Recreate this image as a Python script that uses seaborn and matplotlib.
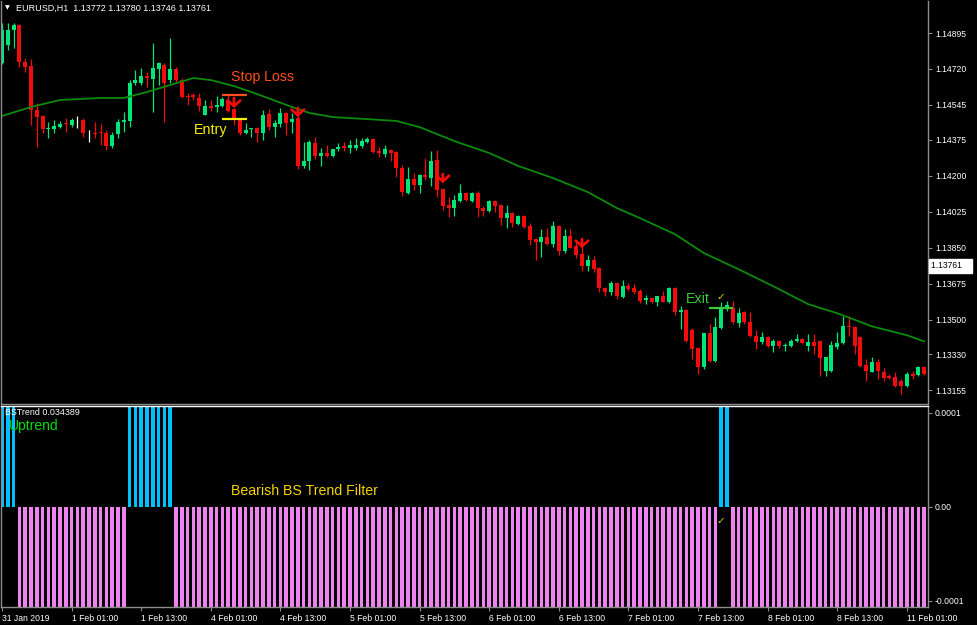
import numpy as np
import pandas as pd
import matplotlib
matplotlib.use("Agg")
import matplotlib.pyplot as plt
import seaborn as sns

plt.rcParams["font.family"] = ["Liberation Sans", "DejaVu Sans"]

# ─────────────────────────────────────────────
# Data (EURUSD H1)
# ─────────────────────────────────────────────
open_ = [
    1.14749, 1.14837, 1.14910, 1.14934, 1.14754, 1.14735, 1.14520, 1.14491, 1.14428, 1.14428,
    1.14437, 1.14457, 1.14447, 1.14457, 1.14472, 1.14398, 1.14408, 1.14413, 1.14408, 1.14345,
    1.14403, 1.14462, 1.14467, 1.14652, 1.14652, 1.14686, 1.14671, 1.14720, 1.14739, 1.14666,
    1.14720, 1.14666, 1.14589, 1.14593, 1.14579, 1.14496, 1.14540, 1.14535, 1.14540, 1.14569,
    1.14525, 1.14476, 1.14408, 1.14428, 1.14433, 1.14408, 1.14501, 1.14437, 1.14452, 1.14506,
    1.14462, 1.14481, 1.14248, 1.14272, 1.14360, 1.14296, 1.14311, 1.14296, 1.14330, 1.14345,
    1.14335, 1.14335, 1.14345, 1.14364, 1.14379, 1.14321, 1.14306, 1.14325, 1.14316, 1.14238,
    1.14116, 1.14184, 1.14155, 1.14204, 1.14189, 1.14277, 1.14136, 1.14058, 1.14043, 1.14077,
    1.14116, 1.14077, 1.14116, 1.14043, 1.14028, 1.14077, 1.14058, 1.13994, 1.14019, 1.13965,
    1.14004, 1.13955, 1.13892, 1.13877, 1.13902, 1.13868, 1.13955, 1.13834, 1.13907, 1.13858,
    1.13819, 1.13760, 1.13789, 1.13750, 1.13653, 1.13633, 1.13677, 1.13609, 1.13662, 1.13653,
    1.13638, 1.13594, 1.13604, 1.13584, 1.13614, 1.13584, 1.13653, 1.13536, 1.13545, 1.13448,
    1.13360, 1.13268, 1.13433, 1.13297, 1.13458, 1.13555, 1.13555, 1.13482, 1.13536, 1.13487,
    1.13419, 1.13390, 1.13414, 1.13370, 1.13394, 1.13370, 1.13370, 1.13394, 1.13404, 1.13370,
    1.13390, 1.13394, 1.13248, 1.13248, 1.13365, 1.13385, 1.13467, 1.13463, 1.13414, 1.13278,
    1.13244, 1.13292, 1.13244, 1.13224, 1.13219, 1.13200, 1.13175, 1.13234, 1.13229, 1.13268,
]
high = [
    1.14944, 1.14944, 1.14944, 1.14939, 1.14774, 1.14769, 1.14554, 1.14496, 1.14462, 1.14472,
    1.14467, 1.14481, 1.14481, 1.14491, 1.14481, 1.14423, 1.14462, 1.14452, 1.14423, 1.14413,
    1.14476, 1.14511, 1.14666, 1.14715, 1.14725, 1.14705, 1.14847, 1.14754, 1.14749, 1.14871,
    1.14730, 1.14676, 1.14603, 1.14603, 1.14603, 1.14569, 1.14569, 1.14589, 1.14584, 1.14593,
    1.14530, 1.14481, 1.14457, 1.14433, 1.14437, 1.14520, 1.14525, 1.14472, 1.14530, 1.14511,
    1.14506, 1.14530, 1.14364, 1.14374, 1.14389, 1.14335, 1.14350, 1.14330, 1.14360, 1.14364,
    1.14374, 1.14384, 1.14384, 1.14389, 1.14384, 1.14340, 1.14350, 1.14330, 1.14321, 1.14252,
    1.14243, 1.14214, 1.14209, 1.14286, 1.14321, 1.14325, 1.14140, 1.14097, 1.14106, 1.14160,
    1.14121, 1.14121, 1.14126, 1.14053, 1.14082, 1.14082, 1.14063, 1.14058, 1.14024, 1.14009,
    1.14009, 1.13970, 1.13897, 1.13941, 1.13946, 1.13980, 1.13960, 1.13941, 1.13941, 1.13887,
    1.13892, 1.13814, 1.13809, 1.13755, 1.13657, 1.13687, 1.13682, 1.13692, 1.13677, 1.13672,
    1.13648, 1.13618, 1.13609, 1.13614, 1.13638, 1.13657, 1.13657, 1.13565, 1.13550, 1.13458,
    1.13365, 1.13434, 1.13477, 1.13511, 1.13584, 1.13589, 1.13589, 1.13555, 1.13541, 1.13536,
    1.13448, 1.13438, 1.13419, 1.13404, 1.13399, 1.13385, 1.13404, 1.13429, 1.13409, 1.13429,
    1.13429, 1.13399, 1.13317, 1.13394, 1.13438, 1.13516, 1.13516, 1.13467, 1.13419, 1.13307,
    1.13317, 1.13307, 1.13263, 1.13234, 1.13244, 1.13209, 1.13244, 1.13248, 1.13273, 1.13273,
]
low = [
    1.14744, 1.14813, 1.14822, 1.14730, 1.14705, 1.14447, 1.14340, 1.14408, 1.14384, 1.14408,
    1.14433, 1.14413, 1.14437, 1.14433, 1.14389, 1.14364, 1.14384, 1.14350, 1.14325, 1.14335,
    1.14384, 1.14413, 1.14437, 1.14642, 1.14642, 1.14632, 1.14511, 1.14642, 1.14462, 1.14652,
    1.14657, 1.14579, 1.14545, 1.14569, 1.14515, 1.14496, 1.14515, 1.14511, 1.14535, 1.14511,
    1.14447, 1.14398, 1.14403, 1.14389, 1.14364, 1.14374, 1.14423, 1.14389, 1.14437, 1.14398,
    1.14408, 1.14233, 1.14238, 1.14228, 1.14282, 1.14248, 1.14291, 1.14291, 1.14321, 1.14321,
    1.14311, 1.14325, 1.14335, 1.14360, 1.14311, 1.14291, 1.14291, 1.14272, 1.14194, 1.14101,
    1.14111, 1.14131, 1.14116, 1.14179, 1.14150, 1.14097, 1.14033, 1.13999, 1.14004, 1.14072,
    1.14077, 1.14072, 1.13999, 1.14004, 1.14024, 1.14024, 1.13960, 1.13946, 1.13951, 1.13960,
    1.13946, 1.13863, 1.13790, 1.13804, 1.13863, 1.13853, 1.13814, 1.13824, 1.13848, 1.13799,
    1.13735, 1.13735, 1.13731, 1.13633, 1.13614, 1.13618, 1.13599, 1.13604, 1.13638, 1.13623,
    1.13580, 1.13575, 1.13580, 1.13565, 1.13584, 1.13580, 1.13521, 1.13453, 1.13390, 1.13307,
    1.13234, 1.13258, 1.13292, 1.13292, 1.13453, 1.13541, 1.13477, 1.13463, 1.13477, 1.13414,
    1.13356, 1.13380, 1.13365, 1.13341, 1.13360, 1.13346, 1.13365, 1.13390, 1.13380, 1.13346,
    1.13331, 1.13224, 1.13224, 1.13244, 1.13356, 1.13380, 1.13419, 1.13331, 1.13268, 1.13200,
    1.13244, 1.13209, 1.13200, 1.13209, 1.13170, 1.13136, 1.13170, 1.13209, 1.13224, 1.13229,
]
close = [
    1.14910, 1.14910, 1.14934, 1.14754, 1.14730, 1.14520, 1.14486, 1.14428, 1.14433, 1.14442,
    1.14452, 1.14452, 1.14472, 1.14457, 1.14408, 1.14398, 1.14403, 1.14408, 1.14345, 1.14398,
    1.14462, 1.14472, 1.14652, 1.14666, 1.14686, 1.14676, 1.14725, 1.14749, 1.14652, 1.14720,
    1.14666, 1.14584, 1.14584, 1.14584, 1.14540, 1.14540, 1.14530, 1.14545, 1.14574, 1.14515,
    1.14476, 1.14408, 1.14423, 1.14433, 1.14408, 1.14496, 1.14437, 1.14457, 1.14506, 1.14457,
    1.14476, 1.14248, 1.14272, 1.14364, 1.14296, 1.14311, 1.14296, 1.14330, 1.14340, 1.14335,
    1.14350, 1.14350, 1.14369, 1.14379, 1.14316, 1.14311, 1.14330, 1.14311, 1.14238, 1.14121,
    1.14184, 1.14155, 1.14204, 1.14194, 1.14272, 1.14131, 1.14053, 1.14043, 1.14082, 1.14116,
    1.14082, 1.14116, 1.14043, 1.14028, 1.14077, 1.14053, 1.13994, 1.14019, 1.13970, 1.14004,
    1.13951, 1.13887, 1.13877, 1.13902, 1.13868, 1.13955, 1.13834, 1.13907, 1.13848, 1.13814,
    1.13760, 1.13789, 1.13745, 1.13653, 1.13633, 1.13677, 1.13614, 1.13662, 1.13648, 1.13633,
    1.13589, 1.13604, 1.13584, 1.13614, 1.13584, 1.13653, 1.13536, 1.13545, 1.13394, 1.13356,
    1.13268, 1.13433, 1.13297, 1.13463, 1.13550, 1.13570, 1.13487, 1.13531, 1.13487, 1.13419,
    1.13390, 1.13414, 1.13370, 1.13394, 1.13370, 1.13375, 1.13394, 1.13404, 1.13385, 1.13390,
    1.13370, 1.13312, 1.13317, 1.13375, 1.13385, 1.13467, 1.13463, 1.13370, 1.13273, 1.13248,
    1.13292, 1.13248, 1.13214, 1.13214, 1.13175, 1.13175, 1.13234, 1.13224, 1.13268, 1.13234,
]

# moving average, sampled along the green line
ma_idx = [0, 5, 10, 17, 21, 25, 29, 33, 36, 40, 44, 50, 53, 57, 63, 68, 72, 78, 84, 89,
          95, 101, 106, 110, 116, 121, 127, 133, 139, 144, 150, 156, 159]
ma_val = [1.14491, 1.14535, 1.14569, 1.14579, 1.14579, 1.14608, 1.14642, 1.14676, 1.14666,
          1.14637, 1.14598, 1.14535, 1.14506, 1.14486, 1.14476, 1.14467, 1.14437, 1.14369,
          1.14311, 1.14248, 1.14189, 1.14121, 1.14043, 1.13994, 1.13916, 1.13824, 1.13745,
          1.13662, 1.13575, 1.13531, 1.13467, 1.13424, 1.13394]

# sell signal arrows (bar, tail price, tip price)
arrow_idx = [40, 51, 76, 100]
arrow_top = [1.14579, 1.14530, 1.14209, 1.13892]
arrow_tip = [1.14530, 1.14486, 1.14164, 1.13848]

# trade levels
sl_price, entry_price, exit_price = 1.14593, 1.14476, 1.13555
last_price = 1.13761

# BS Trend histogram: (direction, number of bars)
trend_runs = [(1, 3), (-1, 19), (1, 8), (-1, 94), (1, 2), (-1, 34)]

price_ticks = [1.14895, 1.14720, 1.14545, 1.14375, 1.14200, 1.14025,
               1.13850, 1.13675, 1.13500, 1.13330, 1.13155]
date_idx = [0, 12, 24, 36, 48, 60, 72, 84, 96, 108, 120, 132, 144, 156]
date_lbl = ["31 Jan 2019", "1 Feb 01:00", "1 Feb 13:00", "4 Feb 01:00", "4 Feb 13:00",
            "5 Feb 01:00", "5 Feb 13:00", "6 Feb 01:00", "6 Feb 13:00", "7 Feb 01:00",
            "7 Feb 13:00", "8 Feb 01:00", "8 Feb 13:00", "11 Feb 01:00"]

# ─────────────────────────────────────────────
# Style
# ─────────────────────────────────────────────
BULL, BEAR, DOJI = "#00e676", "#f20c0c", "#ffffff"
MA_COLOR = "#0b8a0b"
UP_COLOR, DOWN_COLOR = "#00bfff", "#ee82ee"
FRAME = "#8c8c8c"
W, H = 977, 625

fig = plt.figure(figsize=(W / 100, H / 100), dpi=100, facecolor="black")
ax = fig.add_axes([1 / W, 1 - 404 / H, 927 / W, 403 / H], facecolor="black")
ax2 = fig.add_axes([1 / W, 1 - 607 / H, 927 / W, 201 / H], facecolor="black")

# ─────────────────────────────────────────────
# Candles + MA
# ─────────────────────────────────────────────
df = pd.DataFrame({"open": open_, "high": high, "low": low, "close": close})
df["idx"] = np.arange(len(df))
df["color"] = np.where(df.close > df.open, BULL, np.where(df.close < df.open, BEAR, DOJI))

ax.vlines(df.idx, df.low, df.high, colors=df.color.tolist(), lw=0.9)
body_lo = df[["open", "close"]].min(axis=1)
body_h = (df.close - df.open).abs().clip(lower=0.000015)
ax.bar(df.idx, body_h, bottom=body_lo, width=0.7, color=df.color.tolist(), linewidth=0)

sns.lineplot(x=ma_idx, y=ma_val, ax=ax, color=MA_COLOR, lw=1.3)

for i, top, tip in zip(arrow_idx, arrow_top, arrow_tip):
    ax.annotate("", xy=(i, tip), xytext=(i, top),
                arrowprops=dict(arrowstyle="->,head_length=0.4,head_width=0.45",
                                color="#f20c0c", lw=2.0, shrinkA=0, shrinkB=0))

ax.hlines(sl_price, 37.9, 42.2, color="#ff4f1a", lw=1.6)
ax.hlines(entry_price, 37.9, 42.2, color="#f5f000", lw=1.6)
ax.hlines(exit_price, 121.9, 126.0, color="#3cc83c", lw=1.6)

ax.text(45.0, 1.14681, "Stop Loss", color="#ff4f1a", fontsize=10.2, ha="center", va="center")
ax.text(36.0, 1.14423, "Entry", color="#f5f000", fontsize=10.3, ha="center", va="center")
ax.text(120.0, 1.13600, "Exit", color="#3cc83c", fontsize=10.3, ha="center", va="center")
ax.text(124.0, 1.13610, "✓", color="#e6d200", fontsize=7.5, ha="center", va="center",
        family=["DejaVu Sans"])

ax.set_xlim(-0.17, 159.66)
ax.set_ylim(1.13089, 1.15051)
ax.set_xticks([])
ax.yaxis.tick_right()
ax.set_yticks(price_ticks)
ax.set_yticklabels([f"{p:.5f}" for p in price_ticks])
ax.tick_params(axis="y", length=3, width=0.8, color=FRAME, labelcolor="white",
               labelsize=6.2, pad=2)
ax.set_ylabel("")
for side, sp in ax.spines.items():
    sp.set_color(FRAME)
    sp.set_linewidth(1)
ax.spines["top"].set_visible(False)

ax.annotate(f"{last_price:.5f}   ", xy=(1, last_price), xycoords=("axes fraction", "data"),
            xytext=(2.5, 0), textcoords="offset points", fontsize=6.2, color="black",
            va="center", ha="left",
            bbox=dict(boxstyle="square,pad=0.3", fc="white", ec="white"))

fig.text(5 / W, 1 - 8 / H, "▼", color="white", fontsize=4.5, va="center",
         family=["DejaVu Sans"])
fig.text(16 / W, 1 - 8 / H, "EURUSD,H1  1.13772 1.13780 1.13746 1.13761",
         color="white", fontsize=6.5, va="center")

# ─────────────────────────────────────────────
# BS Trend histogram
# ─────────────────────────────────────────────
trend = []
for sign, n in trend_runs:
    trend += [sign] * n
ind = pd.DataFrame({"idx": np.arange(len(trend)), "trend": trend})
# histogram runs past the fixed ±0.0001 window of the sub-chart
ind["value"] = ind.trend * 0.001

sns.barplot(data=ind, x="idx", y="value", hue="trend", native_scale=True,
            palette={1: UP_COLOR, -1: DOWN_COLOR}, saturation=1, dodge=False, width=0.62,
            errorbar=None, legend=False, linewidth=0, ax=ax2)

ax2.text(0.5, 0.0001, "BSTrend 0.034389", color="white", fontsize=6.4, va="center")
ax2.text(1.2, 0.0000862, "Uptrend", color="#00dd00", fontsize=10, va="center")
ax2.text(52.1, 0.000017, "Bearish BS Trend Filter", color="#f5d400", fontsize=10.2,
         ha="center", va="center")
ax2.text(124.0, -0.0000149, "✓", color="#e6d200", fontsize=7.5, ha="center", va="center",
         family=["DejaVu Sans"])

ax2.set_xlim(-0.17, 159.66)
ax2.set_ylim(-0.0001064, 0.0001074)
ax2.set_xlabel("")
ax2.set_ylabel("")
ax2.yaxis.tick_right()
ax2.set_yticks([0.0001, 0.0, -0.0001])
ax2.set_yticklabels(["0.0001", "0.00", "-0.0001"])
ax2.set_xticks(date_idx)
ax2.set_xticklabels(date_lbl, ha="left")
ax2.tick_params(axis="both", length=3, width=0.8, color=FRAME, labelcolor="white",
                labelsize=6.2, pad=2)
for side, sp in ax2.spines.items():
    sp.set_color(FRAME)
    sp.set_linewidth(1)
ax2.spines["top"].set_color("white")

fig.savefig("out.png", dpi=100, facecolor="black")
print("saved out.png")
